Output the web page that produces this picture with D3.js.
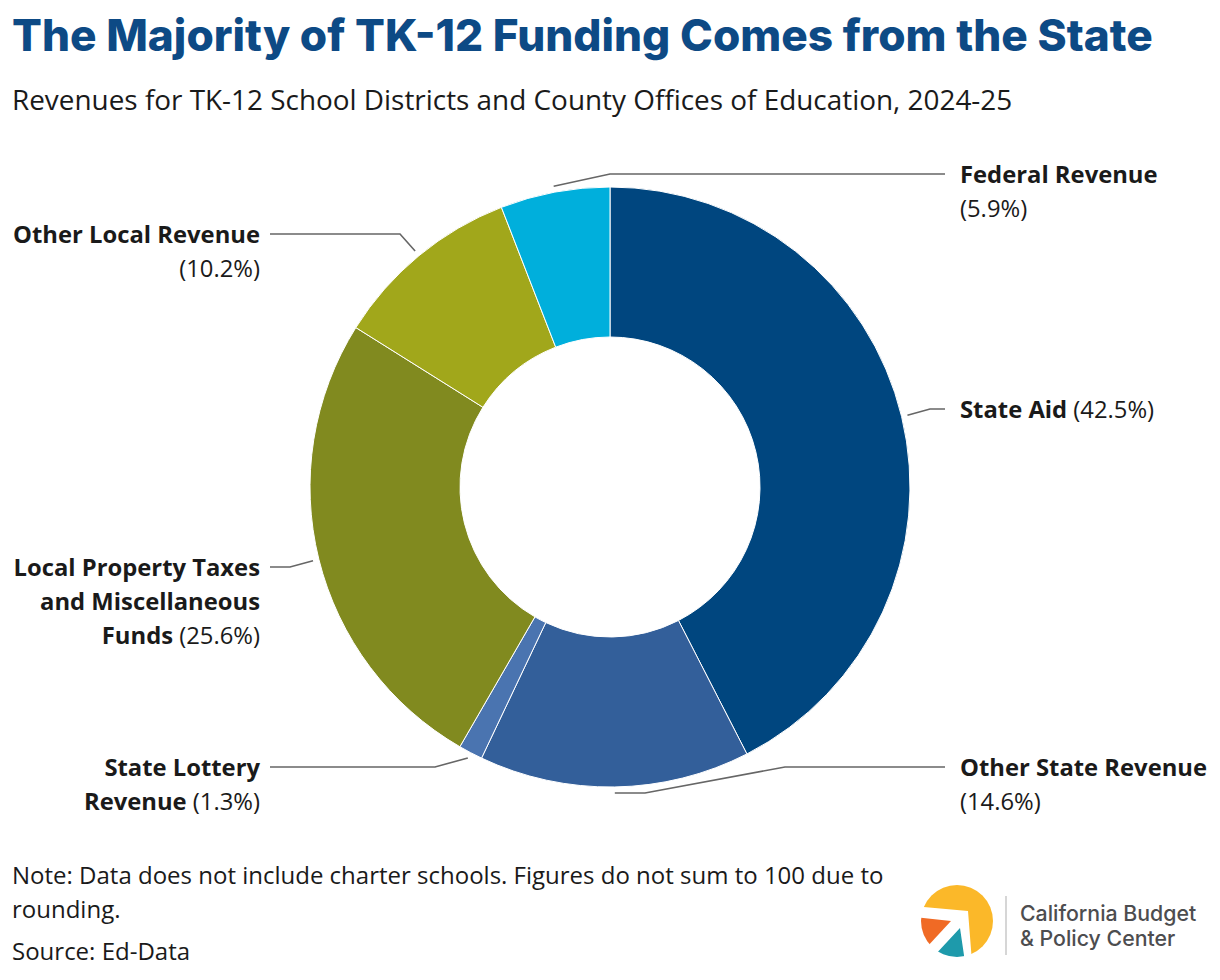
<!DOCTYPE html>
<html lang="en">
<head>
  <meta charset="UTF-8">
  <title>The Majority of TK-12 Funding Comes from the State</title>
  <script src="https://d3js.org/d3.v7.min.js"></script>
  <style>
    body {
      margin: 0;
      background: #fff;
    }
    .title {
      font-family: Inter, "Open Sans", sans-serif;
      font-weight: 800;
      fill: #0d4a85;
    }
    .subtitle, .note, .label {
      font-family: "Open Sans", sans-serif;
      fill: #1a1a1a;
    }
    .label .name {
      font-weight: 700;
    }
    .leader {
      fill: none;
      stroke: #666;
      stroke-width: 1.6;
    }
    .logo-text {
      font-family: Inter, "Open Sans", sans-serif;
      font-weight: 500;
      fill: #4d4d4f;
    }
  </style>
</head>
<body>
  <svg width="1220" height="980"></svg>

  <script>
    // data, clockwise from 12 o'clock
    const categories = ["State Aid", "Other State Revenue", "State Lottery Revenue",
      "Local Property Taxes and Miscellaneous Funds", "Other Local Revenue", "Federal Revenue"];
    const shares = [42.5, 14.6, 1.3, 25.6, 10.2, 5.9];
    const sliceColors = ["#00467f", "#335f9a", "#4a74b0", "#818a1f", "#a1a71b", "#00afdc"];

    // label wrapping, "%" marks where the share goes
    const labelLines = [
      ["State Aid %"],
      ["Other State Revenue", "%"],
      ["State Lottery", "Revenue %"],
      ["Local Property Taxes", "and Miscellaneous", "Funds %"],
      ["Other Local Revenue", "%"],
      ["Federal Revenue", "%"]
    ];
    // leader layout: side, bend points between arc and label, y of label row
    const labelLayout = [
      {side: "right", bends: [[930, 409]], y: 409},
      {side: "right", bends: [[645, 793], [785, 767]], y: 767},
      {side: "left", bends: [[435, 767]], y: 767},
      {side: "left", bends: [[290, 567]], y: 567},
      {side: "left", bends: [[400, 234]], y: 234},
      {side: "right", bends: [[610, 174]], y: 174}
    ];

    const svg = d3.select("svg");
    const cx = 610, cy = 487, rOuter = 300, rInner = 150;

    svg.append("text").attr("class", "title")
      .attr("x", 12).attr("y", 51)
      .style("font-size", "44.2px")
      .text("The Majority of TK-12 Funding Comes from the State");

    svg.append("text").attr("class", "subtitle")
      .attr("x", 12).attr("y", 110)
      .style("font-size", "27.9px")
      .text("Revenues for TK-12 School Districts and County Offices of Education, 2024-25");

    const data = categories.map((c, i) => ({name: c, value: shares[i], i}));
    const pie = d3.pie().value(d => d.value).sort(null);
    const arcs = pie(data);
    const arc = d3.arc().innerRadius(rInner).outerRadius(rOuter);
    const leaderArc = d3.arc().innerRadius(306).outerRadius(306);

    const chart = svg.append("g").attr("transform", `translate(${cx},${cy})`);
    chart.selectAll("path.slice")
      .data(arcs)
      .enter()
      .append("path")
      .attr("class", "slice")
      .attr("d", arc)
      .attr("fill", d => sliceColors[d.data.i])
      .attr("stroke", "#fff")
      .attr("stroke-width", 1);

    // leader lines and labels
    const fmt = d3.format(".1f");
    arcs.forEach(d => {
      const lay = labelLayout[d.data.i];
      const [sx, sy] = leaderArc.centroid(d);
      const endX = lay.side === "right" ? 945 : 270;
      const pts = [[cx + sx, cy + sy], ...lay.bends, [endX, lay.y]];
      svg.append("path").attr("class", "leader").attr("d", d3.line()(pts));

      const tx = lay.side === "right" ? 960 : 260;
      const label = svg.append("text").attr("class", "label")
        .attr("text-anchor", lay.side === "right" ? "start" : "end")
        .style("font-size", "23.8px");
      labelLines[d.data.i].forEach((ln, k) => {
        const t = label.append("tspan").attr("x", tx).attr("y", lay.y + 9 + k * 34);
        const pct = `(${fmt(d.data.value)}%)`;
        if (ln === "%") {
          t.text(pct);
        } else if (ln.endsWith(" %")) {
          t.append("tspan").attr("class", "name").text(ln.slice(0, -2));
          t.append("tspan").text(" " + pct);
        } else {
          t.append("tspan").attr("class", "name").text(ln);
        }
      });
    });

    // notes
    const notes = svg.append("text").attr("class", "note").style("font-size", "24px");
    notes.append("tspan").attr("x", 12).attr("y", 884)
      .text("Note: Data does not include charter schools. Figures do not sum to 100 due to");
    notes.append("tspan").attr("x", 12).attr("y", 918).text("rounding.");
    notes.append("tspan").attr("x", 12).attr("y", 960).text("Source: Ed-Data");

    // logo
    const logo = svg.append("g");
    const clip = svg.append("defs").append("clipPath").attr("id", "logoClip");
    clip.append("circle").attr("cx", 957).attr("cy", 921).attr("r", 36);
    const lg = logo.append("g").attr("clip-path", "url(#logoClip)");
    lg.append("polygon").attr("fill", "#fbb829")
      .attr("points", "914,906 968,911 972,962 1000,962 1000,880 914,880");
    lg.append("polygon").attr("fill", "#f06a25")
      .attr("points", "914,917 951,921 926,948 914,948");
    lg.append("polygon").attr("fill", "#1e9aab")
      .attr("points", "960,928 965,962 925,962 934,956");
    logo.append("line")
      .attr("x1", 1006).attr("x2", 1006).attr("y1", 896).attr("y2", 955)
      .attr("stroke", "#bbb").attr("stroke-width", 1.2);
    const lt = logo.append("text").attr("class", "logo-text").style("font-size", "21.3px");
    lt.append("tspan").attr("x", 1020).attr("y", 921).text("California Budget");
    lt.append("tspan").attr("x", 1020).attr("y", 946).text("& Policy Center");
  </script>
</body>
</html>
